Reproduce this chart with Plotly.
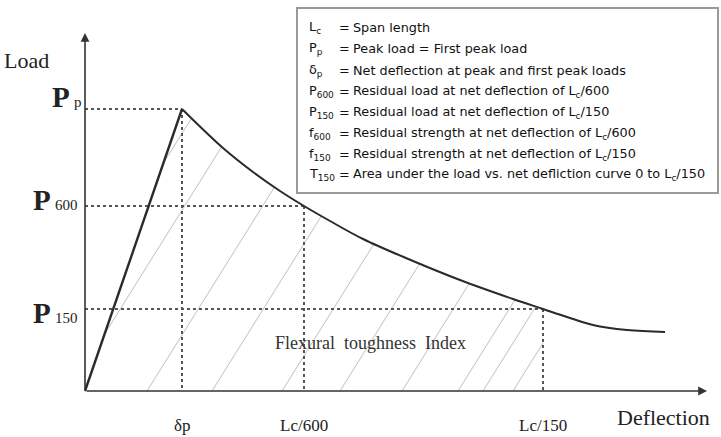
import numpy as np
import plotly.graph_objects as go

# ---------------- data (arbitrary schematic units) ----------------
deflection = [0, 97, 138, 168, 195, 219, 245, 278, 328, 375, 428, 458, 482, 508, 542, 580]
load = [0, 282, 243, 219, 200, 185, 170, 152, 130, 111, 92, 82, 74, 66, 61, 59]

delta_p = 97      # deflection at peak
lc_600 = 219      # Lc/600
lc_150 = 458      # Lc/150
p_peak = 282
p_600 = 185
p_150 = 82

x_axis_end = 622
y_axis_end = 358

x_tick_vals = [delta_p, lc_600, lc_150]
x_tick_text = ["δp", "Lc/600", "Lc/150"]

hatch_offsets = [-64, -16, 62, 127, 197, 255, 317, 373, 398, 428]
hatch_slope = 1.6

legend_symbols = ["L<sub>c</sub>", "P<sub>p</sub>", "δ<sub>p</sub>", "P<sub>600</sub>",
                  "P<sub>150</sub>", "f<sub>600</sub>", "f<sub>150</sub>", "T<sub>150</sub>"]
legend_texts = [
    "Span length",
    "Peak load = First peak load",
    "Net deflection at peak and first peak loads",
    "Residual load at net deflection of L<sub>c</sub>/600",
    "Residual load at net deflection of L<sub>c</sub>/150",
    "Residual strength at net deflection of L<sub>c</sub>/600",
    "Residual strength at net deflection of L<sub>c</sub>/150",
    "Area under the load vs. net defliction curve 0 to L<sub>c</sub>/150",
]

# ---------------- figure ----------------
W, H = 721, 437
fig = go.Figure()

dx = np.array(deflection, float)
dy = np.array(load, float)

# hatch lines clipped to area under the curve up to Lc/150
for c in hatch_offsets:
    xs = np.linspace(min(c, 0), lc_150, 2000)
    ys = hatch_slope * (xs - c)
    upper = np.interp(xs, dx, dy)
    ok = (ys >= 0) & (ys <= upper) & (xs >= 0) & (xs <= lc_150)
    if ok.sum() < 2:
        continue
    fig.add_trace(go.Scatter(x=xs[ok][[0, -1]], y=ys[ok][[0, -1]], mode="lines",
                             line=dict(color="#b8b8b8", width=0.9),
                             hoverinfo="skip", showlegend=False))

# dotted reference lines
dot = dict(color="#555555", width=2, dash="dot")
for xv, yv in [(delta_p, p_peak), (lc_600, p_600), (lc_150, p_150)]:
    fig.add_trace(go.Scatter(x=[0, xv], y=[yv, yv], mode="lines", line=dot,
                             hoverinfo="skip", showlegend=False))
    fig.add_trace(go.Scatter(x=[xv, xv], y=[yv, 0], mode="lines", line=dot,
                             hoverinfo="skip", showlegend=False))

# load-deflection curve: linear rise, smooth softening
fig.add_trace(go.Scatter(x=deflection[:2], y=load[:2], mode="lines",
                         line=dict(color="#2a2a2a", width=2.4),
                         hoverinfo="skip", showlegend=False))
fig.add_trace(go.Scatter(x=deflection[1:], y=load[1:], mode="lines",
                         line=dict(color="#2a2a2a", width=2, shape="spline", smoothing=1),
                         hoverinfo="skip", showlegend=False))

ann = []
# axes with arrows
for (x1, y1) in [(x_axis_end, 0), (0, y_axis_end)]:
    ann.append(dict(x=x1, y=y1, ax=0, ay=0, xref="x", yref="y", axref="x", ayref="y",
                    showarrow=True, arrowhead=2, arrowsize=1.1, arrowwidth=1.6,
                    arrowcolor="#333333", text=""))

serif = "Liberation Serif"
ann.append(dict(x=-59, y=331, xref="x", yref="y", text="Load", showarrow=False,
                font=dict(family=serif, size=22, color="#222")))
ann.append(dict(x=578, y=-26, xref="x", yref="y", text="Deflection", showarrow=False,
                font=dict(family=serif, size=22, color="#222")))
ann.append(dict(x=285, y=48, xref="x", yref="y", text="Flexural  toughness  Index",
                showarrow=False, font=dict(family=serif, size=18, color="#333")))

for xv, t in zip(x_tick_vals, x_tick_text):
    ann.append(dict(x=xv, y=-34, xref="x", yref="y", text=t, showarrow=False,
                    font=dict(family=serif, size=17, color="#222")))

# P labels (main letter + subscript)
for yv, sub, shift, subx in [(p_peak, "p", 12, -13), (p_600, "600", 6, -32), (p_150, "150", -4, -32)]:
    ann.append(dict(x=subx, y=yv, xref="x", yref="y", text="<b>P</b>", showarrow=False,
                    xanchor="right", yanchor="middle", yshift=shift,
                    font=dict(family=serif, size=29, color="#222")))
    ann.append(dict(x=subx, y=yv, xref="x", yref="y", text=sub, showarrow=False,
                    xanchor="left", yanchor="middle", yshift=shift - 5,
                    font=dict(family=serif, size=15, color="#222")))

# legend box texts
row_y = [27, 49, 70, 91, 112, 133, 154, 174]
sans = "DejaVu Sans"
fs = 12.8
for py, sym, txt in zip(row_y, legend_symbols, legend_texts):
    yp = 1 - py / H
    ann.append(dict(x=307 / W, y=yp, xref="paper", yref="paper", text=sym, showarrow=False,
                    xanchor="left", yanchor="middle", font=dict(family=sans, size=fs, color="#111")))
    ann.append(dict(x=337 / W, y=yp, xref="paper", yref="paper", text="=", showarrow=False,
                    xanchor="left", yanchor="middle", font=dict(family=sans, size=fs, color="#111")))
    ann.append(dict(x=351 / W, y=yp, xref="paper", yref="paper", text=txt, showarrow=False,
                    xanchor="left", yanchor="middle", font=dict(family=sans, size=fs, color="#111")))

shapes = [dict(type="rect", xref="paper", yref="paper", x0=297 / W, x1=718 / W,
               y0=1 - 193 / H, y1=1 - 8 / H, line=dict(color="#9a9a9a", width=2),
               fillcolor="white", layer="below")]

fig.update_layout(
    width=W, height=H, margin=dict(l=0, r=0, t=0, b=0),
    paper_bgcolor="white", plot_bgcolor="white",
    xaxis=dict(range=[-85, W - 85], visible=False, fixedrange=True),
    yaxis=dict(range=[391 - H, 391], visible=False, fixedrange=True),
    annotations=ann, shapes=shapes, showlegend=False,
)

fig.write_html("out.html")
